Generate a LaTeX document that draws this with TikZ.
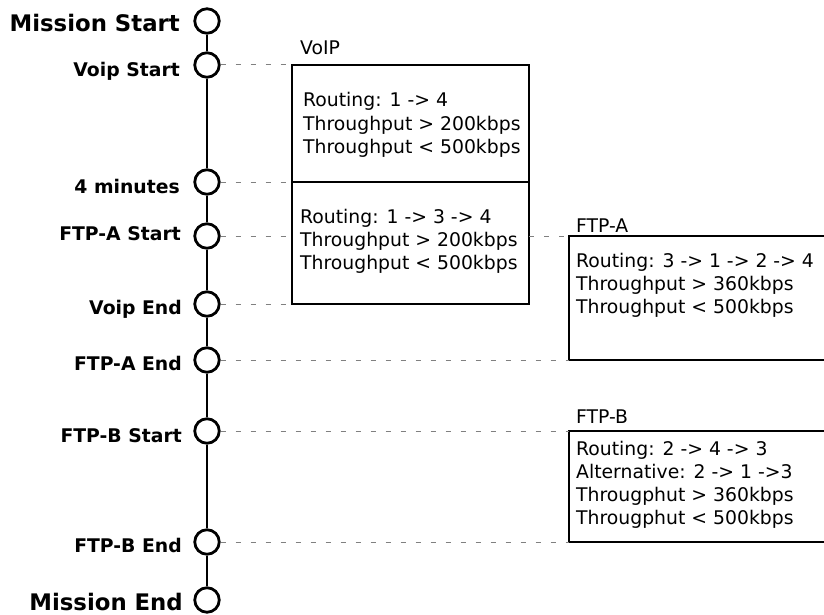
\documentclass[tikz,border=0pt]{standalone}
\usepackage{fontspec}
\setmainfont{DejaVu Sans}
\begin{document}
\begin{tikzpicture}[x=1pt,y=-1pt,
  event/.style={circle, draw=black, line width=2.8pt, fill=white, minimum size=24.5pt, inner sep=0pt},
  evlabel/.style={anchor=base east, inner sep=0pt, font=\bfseries\fontsize{18.8}{23}\selectfont},
  biglabel/.style={anchor=base east, inner sep=0pt, font=\bfseries\fontsize{22.8}{27}\selectfont},
  guide/.style={draw=black!50, line width=1pt, dash pattern=on 5pt off 10pt},
  spine/.style={draw=black, line width=2.6pt},
  phase/.style={draw=black, line width=2pt},
  title/.style={anchor=base west, inner sep=0pt, font=\fontsize{18.8}{23}\selectfont},
  spec/.style={anchor=base west, inner sep=0pt, font=\fontsize{18.8}{23.3}\selectfont}
]
\useasboundingbox (0,0) rectangle (824,615);
\clip (0,0) rectangle (824,615);

% timeline events
\node[event] (ms)  at (207,21)  {};
\node[event] (vs)  at (207,65)  {};
\node[event] (m4)  at (207,182) {};
\node[event] (fas) at (207,236) {};
\node[event] (ve)  at (207,304) {};
\node[event] (fae) at (207,360) {};
\node[event] (fbs) at (207,431) {};
\node[event] (fbe) at (207,542) {};
\node[event] (me)  at (207,600) {};

% spine between consecutive events
\draw[spine] (ms) -- (vs);
\draw[spine] (vs) -- (m4);
\draw[spine] (m4) -- (fas);
\draw[spine] (fas) -- (ve);
\draw[spine] (ve) -- (fae);
\draw[spine] (fae) -- (fbs);
\draw[spine] (fbs) -- (fbe);
\draw[spine] (fbe) -- (me);

% event labels
\node[biglabel] (lms)  at (180,32)  {Mission Start};
\node[evlabel]  (lvs)  at (180,77)  {Voip Start};
\node[evlabel]  (lm4)  at (180,193) {4 minutes};
\node[evlabel]  (lfas) at (181,240) {FTP-A Start};
\node[evlabel]  (lve)  at (182,314) {Voip End};
\node[evlabel]  (lfae) at (182,370) {FTP-A End};
\node[evlabel]  (lfbs) at (182,442) {FTP-B Start};
\node[evlabel]  (lfbe) at (182,552) {FTP-B End};
\node[biglabel] (lme)  at (183,610) {Mission End};

% phase boxes
\coordinate (voipNW) at (292,65);
\coordinate (voipSE) at (529,304);
\coordinate (voipMidW) at (292,182);
\coordinate (voipMidE) at (529,182);
\coordinate (voipFasW) at (292,236);
\coordinate (voipFasE) at (529,236);
\coordinate (voipSW) at (292,304);
\draw[phase] (voipNW) rectangle (voipSE);
\draw[phase] (voipMidW) -- (voipMidE);

\coordinate (ftpaNW) at (569,236);
\coordinate (ftpaSW) at (569,360);
\draw[phase] (ftpaNW) rectangle (834,360);

\coordinate (ftpbNW) at (569,431);
\coordinate (ftpbSW) at (569,542);
\draw[phase] (ftpbNW) rectangle (834,542);

% guide lines from events to boxes
\draw[guide] (vs.east) -- (voipNW);
\draw[guide] (m4.east) -- (voipMidW);
\draw[guide] (fas.east) -- (voipFasW);
\draw[guide] (voipFasE) -- (ftpaNW);
\draw[guide] (ve.east) -- (voipSW);
\draw[guide] (fae.east) -- (ftpaSW);
\draw[guide] (fbs.east) -- (ftpbNW);
\draw[guide] (fbe.east) -- (ftpbSW);

% box titles
\node[title] (tvoip) at (300,55)  {VoIP};
\node[title] (tftpa) at (576,232) {FTP-A};
\node[title] (tftpb) at (576,423) {FTP-B};

% box contents
\node[spec] (svoip1) at (303,107) {\begin{tabular}[t]{@{}l@{}}Routing: 1 -> 4\\Throughput > 200kbps\\Throughput < 500kbps\end{tabular}};
\node[spec] (svoip2) at (300,223) {\begin{tabular}[t]{@{}l@{}}Routing: 1 -> 3 -> 4\\Throughput > 200kbps\\Throughput < 500kbps\end{tabular}};
\node[spec] (sftpa) at (576,267) {\begin{tabular}[t]{@{}l@{}}Routing: 3 -> 1 -> 2 -> 4\\Throughput > 360kbps\\Throughput < 500kbps\end{tabular}};
\node[spec] (sftpb) at (576,455) {\begin{tabular}[t]{@{}l@{}}Routing: 2 -> 4 -> 3\\Alternative: 2 -> 1 ->3\\Througphut > 360kbps\\Througphut < 500kbps\end{tabular}};
\end{tikzpicture}
\end{document}
